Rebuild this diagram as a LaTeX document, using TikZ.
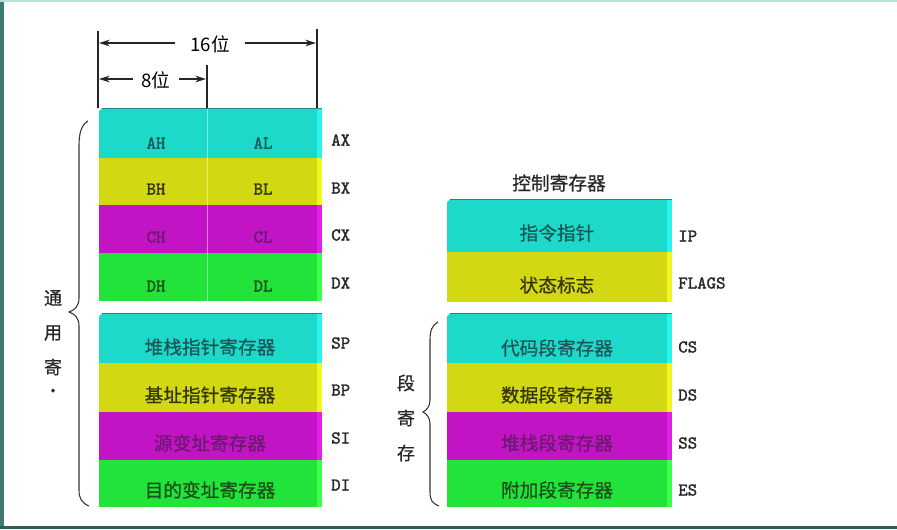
\documentclass[tikz,border=0pt]{standalone}
\usepackage{fontspec}
\newfontfamily\cjk{Noto Sans CJK SC}
\newfontfamily\cjkm{Noto Sans CJK SC}[FakeBold=0.7]
\newfontfamily\regmono{lmmono10-regular.otf}[FakeBold=1.6]
\usetikzlibrary{arrows.meta}
\definecolor{cyM}{HTML}{1CD9C9}
\definecolor{cyR}{HTML}{2AF5EC}
\definecolor{cyT}{HTML}{1B8A82}
\definecolor{yeM}{HTML}{D2D812}
\definecolor{yeR}{HTML}{F2F520}
\definecolor{maM}{HTML}{C214C4}
\definecolor{maR}{HTML}{E020E6}
\definecolor{grM}{HTML}{22E33A}
\definecolor{grR}{HTML}{3CFF4C}
\definecolor{cyTx}{HTML}{1E5656}
\definecolor{yeTx}{HTML}{35350C}
\definecolor{maTx}{HTML}{6A1A70}
\definecolor{grTx}{HTML}{1A501A}
\definecolor{frameL}{HTML}{3E7A72}
\definecolor{frameB}{HTML}{2E5E58}
\definecolor{frameT}{HTML}{B8E0DC}
\newcommand\regrow[6]{%
  \node[rowbox, fill=#6M, minimum width={(#4-#2)*0.75pt}, minimum height={(#5-#3)*0.75pt}] (#1) at ({(#2+#4)/2},{(#3+#5)/2}) {};
  \fill[#6R] ([xshift=-3.6pt]#1.north east) rectangle (#1.south east);
}
\newcommand\blocktop[1]{%
  \fill[white] (#1.north west) -- ++(2.4pt,0) -- ++(-2.4pt,-2.4pt) -- cycle;
  \draw[cyT, line width=1.1pt] ([xshift=2.4pt,yshift=-0.55pt]#1.north west) -- ([yshift=-0.55pt]#1.north east);
}
\begin{document}
\begin{tikzpicture}[x=0.75pt,y=-0.75pt,
  rowbox/.style={draw=none, inner sep=0pt, outer sep=0pt},
  reglab/.style={font=\regmono\fontsize{13.5}{13.5}\selectfont, text=black!85, anchor=west, inner sep=0pt},
  cell/.style={font=\regmono\fontsize{13.5}{13.5}\selectfont, inner sep=0pt},
  cn/.style={font=\cjkm\fontsize{14}{14}\selectfont, inner sep=0pt},
  side/.style={font=\cjkm\fontsize{13.5}{13.5}\selectfont, inner sep=0pt, text=black!85},
  dimline/.style={line width=0.9pt, draw=black!85, -{Stealth[length=8pt,width=5pt]}},
  tick/.style={line width=0.9pt, draw=black!85},
  brace/.style={line width=0.8pt, draw=black!80}
]
\useasboundingbox (0,0) rectangle (897,529);
% frame
\fill[frameL] (0,0) rectangle (4,529);
\fill[frameB] (0,526) rectangle (897,529);
\fill[frameT] (0,0) rectangle (897,1.5);

% ---------- dimension lines ----------
\coordinate (vL1) at (98,31);  \coordinate (vL2) at (98,108);
\coordinate (vM1) at (207,65); \coordinate (vM2) at (207,108);
\coordinate (vR1) at (317,29); \coordinate (vR2) at (317,108);
\draw[tick] (vL1) -- (vL2);
\draw[tick] (vM1) -- (vM2);
\draw[tick] (vR1) -- (vR2);
\node[font=\cjk\fontsize{14}{14}\selectfont, inner xsep=11pt, inner ysep=0pt] (t16) at (210,44) {16位};
\node[font=\cjk\fontsize{14}{14}\selectfont, inner xsep=6pt, inner ysep=0pt] (t8) at (156,80) {8位};
\coordinate (a16l) at (99,43);  \coordinate (a16r) at (316,43);
\coordinate (a8l) at (99,79);   \coordinate (a8r) at (206,79);
\draw[dimline] (t16.west |- a16l) -- (a16l);
\draw[dimline] (t16.east |- a16r) -- (a16r);
\draw[dimline] (t8.west |- a8l) -- (a8l);
\draw[dimline] (t8.east |- a8r) -- (a8r);

% ---------- general registers ----------
\regrow{ax}{99}{108}{322}{158}{cy}
\regrow{bx}{99}{158}{322}{205}{ye}
\regrow{cx}{99}{205}{322}{253}{ma}
\regrow{dx}{99}{253}{322}{301}{gr}
\blocktop{ax}
\draw[white, opacity=0.45, line width=0.6pt] (207,109) -- (207,301);
\node[cell, text=cyTx] (ah) at (156,143) {AH};
\node[cell, text=cyTx] (al) at (263,143) {AL};
\node[cell, text=yeTx] (bh) at (156,189) {BH};
\node[cell, text=yeTx] (bl) at (263,189) {BL};
\node[cell, text=maTx] (ch) at (156,237) {CH};
\node[cell, text=maTx] (cl) at (263,237) {CL};
\node[cell, text=grTx] (dh) at (156,286) {DH};
\node[cell, text=grTx] (dl) at (263,286) {DL};

\regrow{sp}{99}{313}{322}{363}{cy}
\regrow{bp}{99}{363}{322}{412}{ye}
\regrow{si}{99}{412}{322}{460}{ma}
\regrow{di}{99}{460}{322}{507}{gr}
\blocktop{sp}
\node[cn, text=cyTx] (spt) at (210,347) {堆栈指针寄存器};
\node[cn, text=yeTx] (bpt) at (210,395) {基址指针寄存器};
\node[cn, text=maTx] (sit) at (210,443) {源变址寄存器};
\node[cn, text=grTx] (dit) at (210,490) {目的变址寄存器};

\node[reglab] (lax) at (331,140) {AX};
\node[reglab] (lbx) at (331,188) {BX};
\node[reglab] (lcx) at (331,235) {CX};
\node[reglab] (ldx) at (331,283) {DX};
\node[reglab] (lsp) at (331,343) {SP};
\node[reglab] (lbp) at (331,390) {BP};
\node[reglab] (lsi) at (331,438) {SI};
\node[reglab] (ldi) at (331,485) {DI};

% left brace and label
\draw[brace] (88,121) .. controls (81,125) and (79,134) .. (79,146) -- (79,298)
  .. controls (79,306) and (75,310) .. (69,312) .. controls (75,314) and (79,318) .. (79,326)
  -- (79,490) .. controls (79,499) and (82,503) .. (89,506);
\node[side] (g1) at (53,298) {通};
\node[side] (g2) at (53,333) {用};
\node[side] (g3) at (53,367) {寄};
\node[side] (g4) at (53,393) {·};

% ---------- control registers ----------
\node[font=\cjkm\fontsize{14}{14}\selectfont, inner sep=0pt, text=black!85] (ctl) at (559,183) {控制寄存器};
\regrow{ip}{447}{199}{672}{252}{cy}
\regrow{fl}{447}{252}{672}{302}{ye}
\blocktop{ip}
\node[cn, text=cyTx] (ipt) at (557,233) {指令指针};
\node[cn, text=yeTx] (flt) at (557,285) {状态标志};
\node[reglab] (lip) at (678,236) {IP};
\node[reglab] (lfl) at (678,283) {FLAGS};

% ---------- segment registers ----------
\regrow{cs}{447}{313}{672}{363}{cy}
\regrow{ds}{447}{363}{672}{412}{ye}
\regrow{ss}{447}{412}{672}{460}{ma}
\regrow{es}{447}{460}{672}{507}{gr}
\blocktop{cs}
\node[cn, text=cyTx] (cst) at (557,348) {代码段寄存器};
\node[cn, text=yeTx] (dst) at (557,395) {数据段寄存器};
\node[cn, text=maTx] (sst) at (557,443) {堆栈段寄存器};
\node[cn, text=grTx] (est) at (557,490) {附加段寄存器};
\node[reglab] (lcs) at (678,347) {CS};
\node[reglab] (lds) at (678,395) {DS};
\node[reglab] (lss) at (678,443) {SS};
\node[reglab] (les) at (678,490) {ES};

\draw[brace] (438,322) .. controls (432,325) and (430,331) .. (430,340) -- (430,400)
  .. controls (430,406) and (427,410) .. (423,412) .. controls (427,414) and (430,418) .. (430,424)
  -- (430,492) .. controls (430,500) and (432,503) .. (439,506);
\node[side] (s1) at (406,383) {段};
\node[side] (s2) at (406,418) {寄};
\node[side] (s3) at (406,453) {存};
\end{tikzpicture}
\end{document}
